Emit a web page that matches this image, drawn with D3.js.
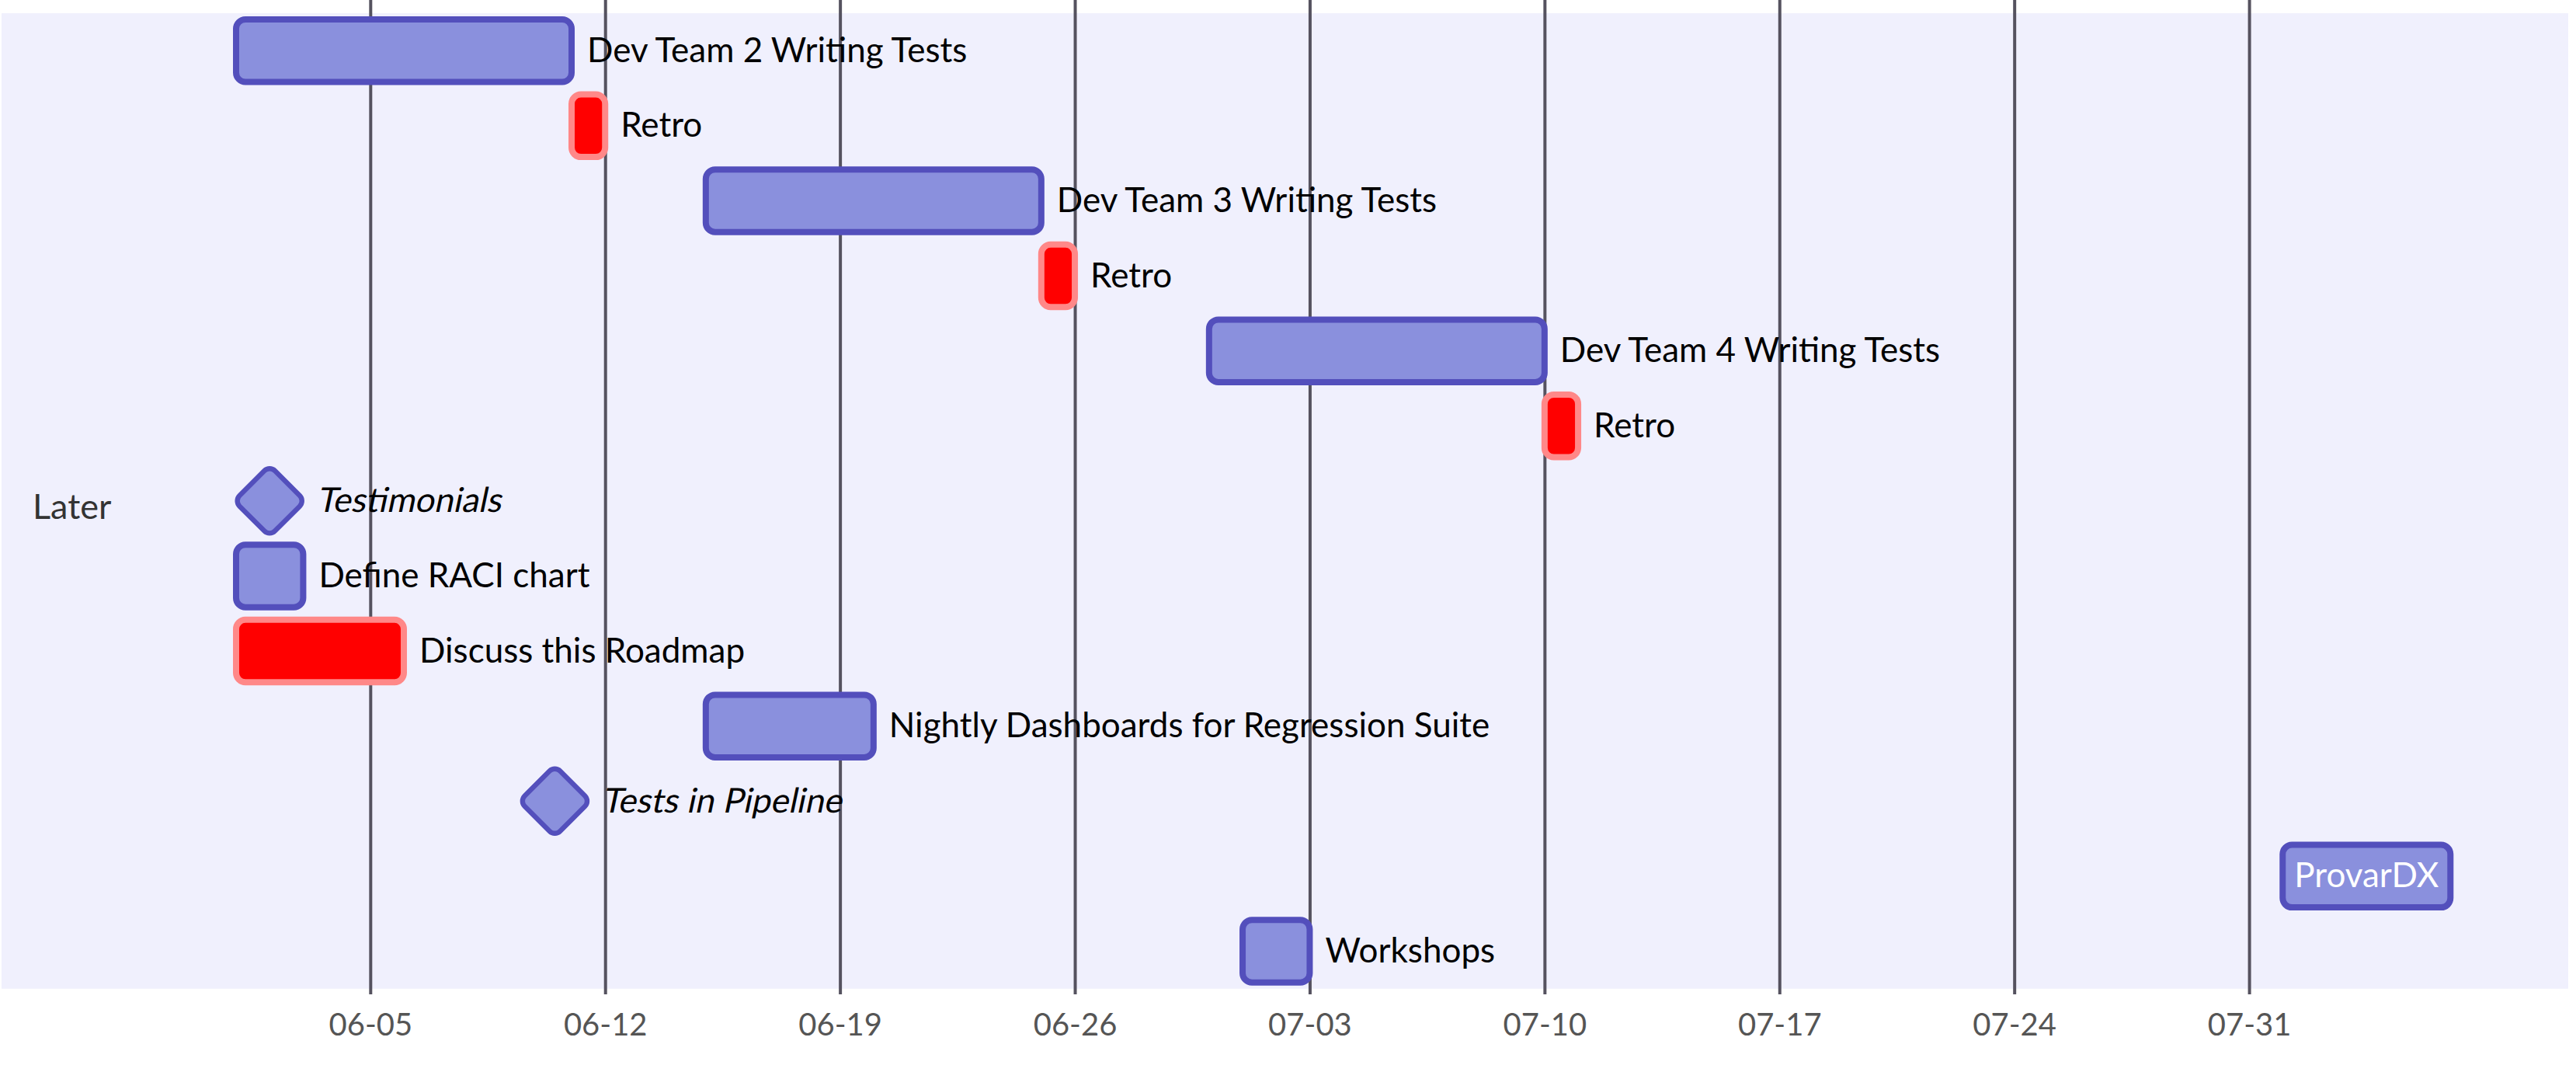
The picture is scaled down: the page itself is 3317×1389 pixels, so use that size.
<!DOCTYPE html>
<html><head><meta charset="utf-8">
<script src="https://cdn.jsdelivr.net/npm/d3@7"></script>
<style>
body{margin:0;background:#fff}
svg{display:block}
</style>
</head><body>
<svg id="chart" width="3317" height="1389"></svg>
<script>
// ---- data ----
const sectionName = "Later";
const taskNames = [
  "Dev Team 2 Writing Tests", "Retro", "Dev Team 3 Writing Tests", "Retro",
  "Dev Team 4 Writing Tests", "Retro", "Testimonials", "Define RACI chart",
  "Discuss this Roadmap", "Nightly Dashboards for Regression Suite",
  "Tests in Pipeline", "ProvarDX", "Workshops"
];
const taskStarts = [
  "2022-06-01", "2022-06-11", "2022-06-15", "2022-06-25",
  "2022-06-30", "2022-07-10", "2022-06-01", "2022-06-01",
  "2022-06-01", "2022-06-15", "2022-06-10", "2022-08-01", "2022-07-01"
];
const taskEnds = [
  "2022-06-11", "2022-06-12", "2022-06-25", "2022-06-26",
  "2022-07-10", "2022-07-11", "2022-06-03", "2022-06-03",
  "2022-06-06", "2022-06-20", "2022-06-11", "2022-08-06", "2022-07-03"
];
const taskTypes = [
  "task", "crit", "task", "crit", "task", "crit", "milestone", "task",
  "crit", "task", "milestone", "task", "task"
];
const tickDates = ["2022-06-05","2022-06-12","2022-06-19","2022-06-26","2022-07-03","2022-07-10","2022-07-17","2022-07-24","2022-07-31"];

// ---- rendering ----
const parse = d3.timeParse("%Y-%m-%d");
const tasks = taskNames.map((n, i) => ({
  name: n, start: parse(taskStarts[i]), end: parse(taskEnds[i]), type: taskTypes[i], i
}));

const FONT = "Lato, 'Open Sans', sans-serif";
const svg = d3.select("#chart");
const bgTop = 17, gap = 96.6, barH = 80.5, barPad = 8;
const axisY = 1280;

const x = d3.scaleTime()
  .domain([d3.min(tasks, d => d.start), d3.max(tasks, d => d.end)])
  .range([304, 3155.3]);
const y = d3.scaleBand()
  .domain(tasks.map(d => d.i))
  .range([bgTop, bgTop + gap * tasks.length])
  .padding(0);

// section background
svg.append("rect")
  .attr("x", 2).attr("y", bgTop)
  .attr("width", 3305).attr("height", gap * tasks.length)
  .attr("fill", "#f0f0fd");

// grid
const axis = d3.axisBottom(x)
  .tickValues(tickDates.map(parse))
  .tickFormat(d3.timeFormat("%m-%d"))
  .tickSize(-axisY)
  .tickPadding(0);
const g = svg.append("g").attr("transform", `translate(0,${axisY})`).call(axis);
g.select(".domain").remove();
g.selectAll(".tick line").attr("stroke", "#55525f").attr("stroke-width", 4);
g.selectAll(".tick text")
  .attr("fill", "#555").attr("font-family", FONT).attr("font-size", 40)
  .attr("dy", null).attr("y", 53);

// section title
svg.append("text")
  .attr("x", 42).attr("y", bgTop + gap * tasks.length / 2 + 23)
  .attr("font-family", FONT).attr("font-size", 45).attr("fill", "#333")
  .text(sectionName);

// bars
const colors = {
  task: {fill: "#8a90dd", stroke: "#534fbc"},
  milestone: {fill: "#8a90dd", stroke: "#534fbc"},
  crit: {fill: "#ff0000", stroke: "#ff8888"}
};

const rows = svg.append("g").selectAll("g").data(tasks).join("g");

rows.each(function(d) {
  const sel = d3.select(this);
  const top = y(d.i) + barPad;
  const cy = top + barH / 2;
  const c = colors[d.type];
  let textX, anchor = "start", inside = false;
  if (d.type === "milestone") {
    const cx = (x(d.start) + x(d.end)) / 2;
    sel.append("rect")
      .attr("x", -barH / 2).attr("y", -barH / 2)
      .attr("width", barH).attr("height", barH)
      .attr("rx", 12).attr("ry", 12)
      .attr("fill", c.fill).attr("stroke", c.stroke).attr("stroke-width", 8)
      .attr("transform", `translate(${cx},${cy}) rotate(45) scale(0.8)`);
    textX = cx + barH / 2 + 20;
  } else {
    const x0 = x(d.start), x1 = x(d.end);
    sel.append("rect")
      .attr("x", x0).attr("y", top)
      .attr("width", x1 - x0).attr("height", barH)
      .attr("rx", 12).attr("ry", 12)
      .attr("fill", c.fill).attr("stroke", c.stroke).attr("stroke-width", 8);
    textX = x1 + 20;
    const t = sel.append("text").attr("font-family", FONT).attr("font-size", 44).text(d.name);
    const w = t.node().getComputedTextLength();
    t.remove();
    if (w < x1 - x0) { inside = true; textX = (x0 + x1) / 2; anchor = "middle"; }
  }
  const ty = cy + 14.5;
  const txt = sel.append("text")
    .attr("text-anchor", anchor)
    .attr("font-family", FONT).attr("font-size", 44)
    .attr("fill", inside ? "#fff" : "#000")
    .text(d.name);
  if (d.type === "milestone") {
    // synthesized oblique, as in the reference
    txt.attr("transform", `translate(${textX},${ty}) skewX(-12)`);
  } else {
    txt.attr("x", textX).attr("y", ty);
  }
});
</script>
</body></html>
